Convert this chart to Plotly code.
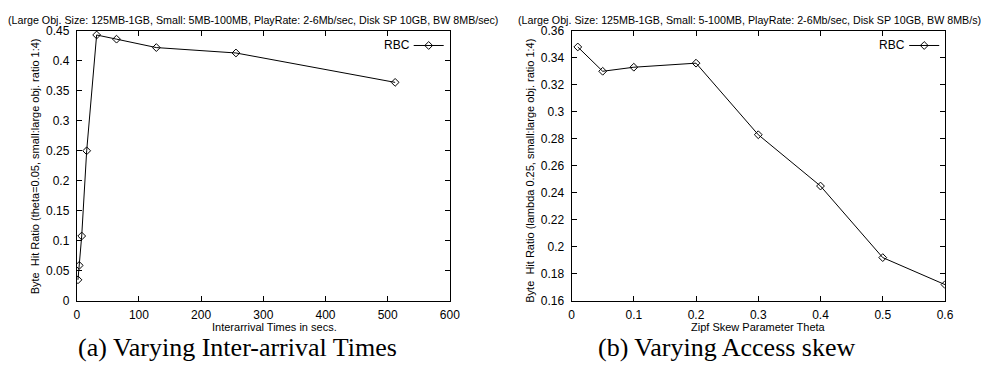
import plotly.graph_objects as go

# ---- data ----
interarrival_x = [2, 4, 8, 16, 32, 64, 128, 256, 512]
interarrival_hit = [0.035, 0.059, 0.108, 0.250, 0.443, 0.436, 0.422, 0.413, 0.364]

theta_x = [0.01, 0.05, 0.1, 0.2, 0.3, 0.4, 0.5, 0.6]
theta_hit = [0.348, 0.330, 0.333, 0.336, 0.283, 0.245, 0.192, 0.172]

series_name = "RBC"
left_title = "(Large Obj. Size: 125MB-1GB, Small: 5MB-100MB, PlayRate: 2-6Mb/sec, Disk SP 10GB, BW 8MB/sec)"
right_title = "(Large Obj. Size: 125MB-1GB, Small: 5-100MB, PlayRate: 2-6Mb/sec, Disk SP 10GB, BW 8MB/s)"
left_ylabel = "Byte  Hit Ratio (theta=0.05, small:large obj. ratio 1:4)"
right_ylabel = "Byte  Hit Ratio (lambda 0.25, small:large obj. ratio 1:4)"
left_xlabel = "Interarrival Times in secs."
right_xlabel = "Zipf Skew Parameter Theta"
left_caption = "(a) Varying Inter-arrival Times"
right_caption = "(b) Varying Access skew"

W, H = 1007, 372
FONT = "Liberation Sans, Arial, Helvetica, sans-serif"
SERIF = "Liberation Serif, Times New Roman, serif"


def px(x):
    return x / W


def py(y):
    return 1 - y / H


fig = go.Figure()

line_style = dict(color="black", width=1)
marker_style = dict(symbol="diamond-open", size=6, color="black", line=dict(color="black", width=1))

fig.add_trace(go.Scatter(x=interarrival_x, y=interarrival_hit, mode="lines+markers", name=" ",
                         line=line_style, marker=marker_style, xaxis="x", yaxis="y",
                         legend="legend", showlegend=True))
fig.add_trace(go.Scatter(x=theta_x, y=theta_hit, mode="lines+markers", name=" ",
                         line=line_style, marker=marker_style, xaxis="x2", yaxis="y2",
                         legend="legend2", showlegend=True))

axis_common = dict(showline=True, linecolor="black", linewidth=1, mirror="ticks",
                   ticks="inside", ticklen=5, tickcolor="black", tickwidth=1,
                   showgrid=False, zeroline=False,
                   tickfont=dict(family=FONT, size=12, color="black"))

top, bottom = 24.7, 305.3
fig.update_layout(
    width=W, height=H,
    margin=dict(l=0, r=0, t=0, b=0),
    paper_bgcolor="white", plot_bgcolor="white",
    font=dict(family=FONT, color="black"),
    xaxis=dict(domain=[px(74.7), px(452.7)], range=[0, 600], dtick=100, anchor="y",
               ticklabelstandoff=3, **axis_common),
    yaxis=dict(domain=[py(bottom), py(top)], range=[0, 0.45], dtick=0.05, anchor="x",
               ticklabelstandoff=4, **axis_common),
    xaxis2=dict(domain=[px(576), px(954.3)], range=[0, 0.6], dtick=0.1, anchor="y2",
                ticklabelstandoff=3, **axis_common),
    yaxis2=dict(domain=[py(bottom), py(top)], range=[0.16, 0.36], dtick=0.02, anchor="x2",
                ticklabelstandoff=4, **axis_common),
    legend=dict(x=px(411), y=py(40), xanchor="left", yanchor="middle", bgcolor="rgba(0,0,0,0)",
                font=dict(size=12, family=FONT), itemwidth=30, tracegroupgap=0),
    legend2=dict(x=px(913), y=py(40), xanchor="left", yanchor="middle", bgcolor="rgba(0,0,0,0)",
                 font=dict(size=12, family=FONT), itemwidth=30, tracegroupgap=0),
)

ann = []
# legend texts to the left of the symbols
ann.append(dict(text=series_name, x=px(414), y=py(40), xref="paper", yref="paper",
                xanchor="right", yanchor="middle", showarrow=False, font=dict(size=12, family=FONT)))
ann.append(dict(text=series_name, x=px(916), y=py(40), xref="paper", yref="paper",
                xanchor="right", yanchor="middle", showarrow=False, font=dict(size=12, family=FONT)))
# top titles
ann.append(dict(text=left_title, x=px(253), y=py(13), xref="paper", yref="paper",
                xanchor="center", yanchor="middle", showarrow=False, font=dict(size=10.7, family=FONT)))
ann.append(dict(text=right_title, x=px(756), y=py(13), xref="paper", yref="paper",
                xanchor="center", yanchor="middle", showarrow=False, font=dict(size=10.7, family=FONT)))
# y labels
ann.append(dict(text=left_ylabel, x=px(32), y=py(166), xref="paper", yref="paper", textangle=-90,
                xanchor="center", yanchor="middle", showarrow=False, font=dict(size=11, family=FONT)))
ann.append(dict(text=right_ylabel, x=px(533), y=py(170), xref="paper", yref="paper", textangle=-90,
                xanchor="center", yanchor="middle", showarrow=False, font=dict(size=11, family=FONT)))
# x labels
ann.append(dict(text=left_xlabel, x=px(275), y=py(333), xref="paper", yref="paper",
                xanchor="center", yanchor="middle", showarrow=False, font=dict(size=11, family=FONT)))
ann.append(dict(text=right_xlabel, x=px(765), y=py(333), xref="paper", yref="paper",
                xanchor="center", yanchor="middle", showarrow=False, font=dict(size=11, family=FONT)))
# captions
ann.append(dict(text=left_caption, x=px(238), y=py(354), xref="paper", yref="paper",
                xanchor="center", yanchor="middle", showarrow=False,
                font=dict(size=26, family=SERIF)))
ann.append(dict(text=right_caption, x=px(733), y=py(354), xref="paper", yref="paper",
                xanchor="center", yanchor="middle", showarrow=False,
                font=dict(size=26, family=SERIF)))
fig.update_layout(annotations=ann)

fig.write_html("out.html")
